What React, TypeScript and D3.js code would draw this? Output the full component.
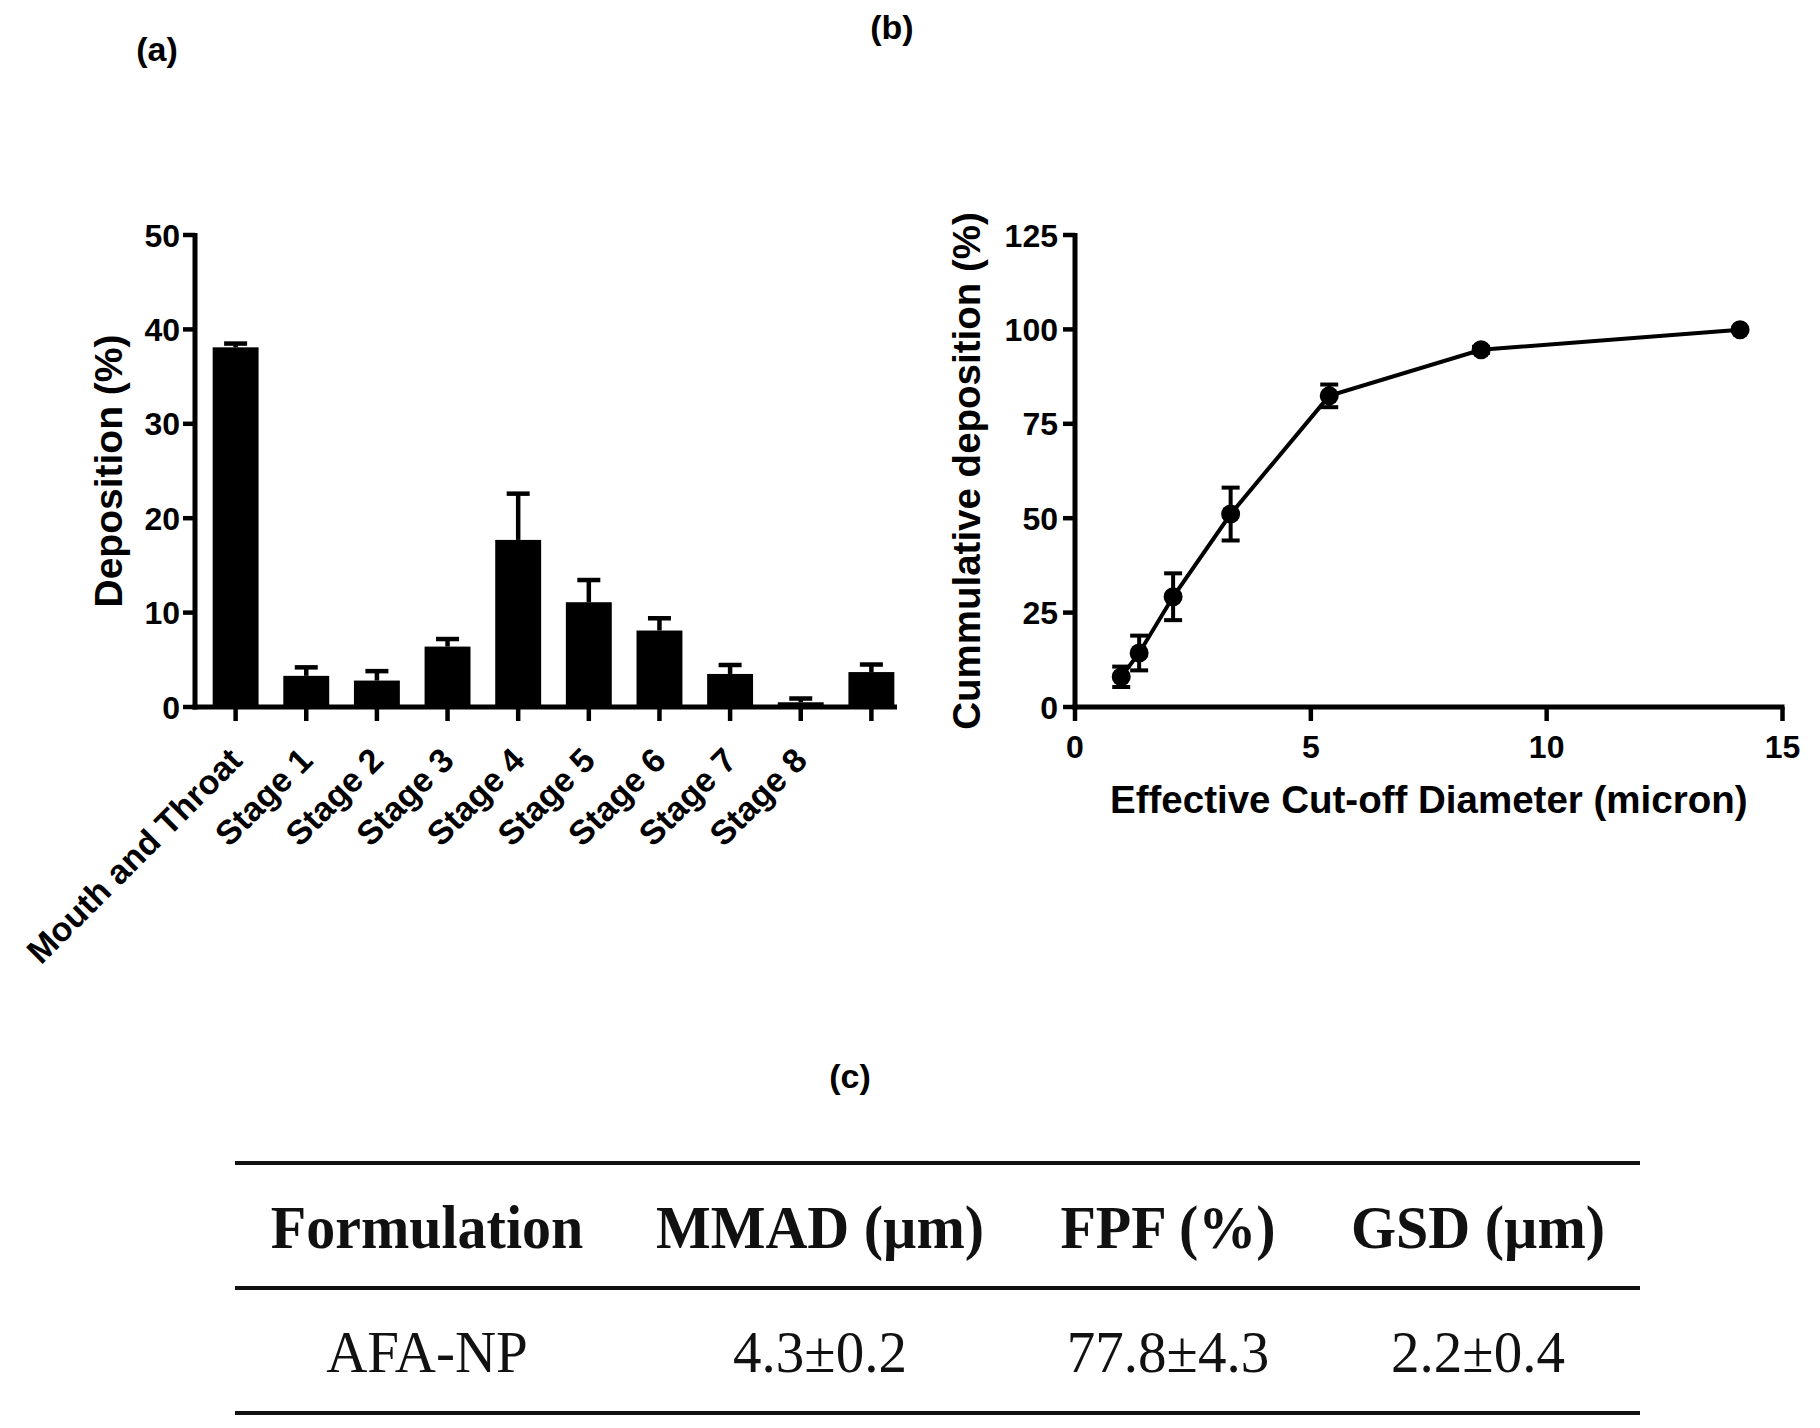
import React from "react";
import * as d3 from "d3";

// ---------- Panel (a) data ----------
const stageLabels = ["Mouth and Throat", "Stage 1", "Stage 2", "Stage 3", "Stage 4", "Stage 5", "Stage 6", "Stage 7", "Stage 8", ""];
const depositionMean = [38.1, 3.3, 2.8, 6.4, 17.7, 11.1, 8.1, 3.5, 0.5, 3.7];
const depositionSD = [0.4, 0.9, 1.0, 0.8, 4.9, 2.35, 1.3, 0.95, 0.4, 0.8];
const yTicksA = [0, 10, 20, 30, 40, 50];

// ---------- Panel (b) data ----------
const cutoffDiameter = [0.98, 1.36, 2.08, 3.3, 5.39, 8.61, 14.1];
const cumulativeMean = [8.0, 14.3, 29.2, 51.1, 82.4, 94.6, 99.9];
const cumulativeSD = [2.7, 4.6, 6.2, 7.0, 3.0, 0.8, 0.3];
const yTicksB = [0, 25, 50, 75, 100, 125];
const xTicksB = [0, 5, 10, 15];

// ---------- Panel (c) table ----------
const tableHeader = ["Formulation", "MMAD (\u00b5m)", "FPF (%)", "GSD (\u00b5m)"];
const tableRow = ["AFA-NP", "4.3\u00b10.2", "77.8\u00b14.3", "2.2\u00b10.4"];

const SANS = "'Liberation Sans', Arial, Helvetica, sans-serif";
const SERIF = "'Liberation Serif', 'Times New Roman', serif";

export default function App() {
  const W = 1820;
  const H = 1428;

  // Panel (a) scales
  const idx = d3.range(stageLabels.length);
  const xA = d3
    .scaleBand<number>()
    .domain(idx)
    .range([195, 912])
    .paddingInner(0.35)
    .paddingOuter(0.25);
  const yA = d3.scaleLinear().domain([0, 50]).range([707, 235]);
  const axisAX = 195;
  const axisAY = yA(0);

  // Panel (b) scales
  const xB = d3.scaleLinear().domain([0, 15]).range([1075, 1782.5]);
  const yB = d3.scaleLinear().domain([0, 125]).range([707, 235]);
  const ptsB = cutoffDiameter.map((x, i) => ({ x, y: cumulativeMean[i], e: cumulativeSD[i] }));
  const lineB = d3
    .line<{ x: number; y: number }>()
    .x((d) => xB(d.x))
    .y((d) => yB(d.y));

  // Table
  const colCenters = [427, 820, 1168, 1478];

  const axisW = 5;
  const tickLen = 12;

  return (
    <div style={{ position: "absolute", left: 0, top: 0, width: W, height: H, background: "#fff" }}>
      <svg width={W} height={H} viewBox={`0 0 ${W} ${H}`} style={{ display: "block" }}>
        <rect x={0} y={0} width={W} height={H} fill="#fff" />

        {/* Panel labels */}
        <g fontFamily={SANS} fontWeight="bold" fontSize={34} fill="#000" textAnchor="middle">
          <text x={157} y={61}>(a)</text>
          <text x={892} y={39}>(b)</text>
          <text x={850} y={1088}>(c)</text>
        </g>

        {/* ---------------- Panel (a) ---------------- */}
        <g>
          {idx.map((i) => (
            <rect
              key={"bar" + i}
              x={xA(i)}
              y={yA(depositionMean[i])}
              width={xA.bandwidth()}
              height={axisAY - yA(depositionMean[i])}
              fill="#000"
            />
          ))}
          {idx.map((i) => {
            const cx = (xA(i) as number) + xA.bandwidth() / 2;
            const yTop = yA(depositionMean[i] + depositionSD[i]);
            return (
              <g key={"err" + i} stroke="#000" strokeWidth={4.5}>
                <line x1={cx} x2={cx} y1={yA(depositionMean[i])} y2={yTop} />
                <line x1={cx - 11.5} x2={cx + 11.5} y1={yTop} y2={yTop} />
              </g>
            );
          })}
          <line x1={axisAX} x2={axisAX} y1={yA(50) - 2} y2={axisAY + axisW / 2} stroke="#000" strokeWidth={axisW} />
          <line x1={axisAX - axisW / 2} x2={897} y1={axisAY} y2={axisAY} stroke="#000" strokeWidth={axisW} />
          {yTicksA.map((t) => (
            <g key={"ya" + t}>
              <line x1={axisAX - tickLen} x2={axisAX} y1={yA(t)} y2={yA(t)} stroke="#000" strokeWidth={4.5} />
              <text
                x={axisAX - 15}
                y={yA(t)}
                dy="0.36em"
                textAnchor="end"
                fontFamily={SANS}
                fontWeight="bold"
                fontSize={32}
              >
                {t}
              </text>
            </g>
          ))}
          {idx.map((i) => {
            const cx = (xA(i) as number) + xA.bandwidth() / 2;
            return (
              <g key={"xa" + i}>
                <line x1={cx} x2={cx} y1={axisAY} y2={axisAY + 14} stroke="#000" strokeWidth={4.5} />
                {stageLabels[i] !== "" && (
                  <text
                    transform={`translate(${cx},${axisAY + 47}) rotate(-45)`}
                    dy="0.35em"
                    textAnchor="end"
                    fontFamily={SANS}
                    fontWeight="bold"
                    fontSize={34}
                  >
                    {stageLabels[i]}
                  </text>
                )}
              </g>
            );
          })}
          <text
            transform={`translate(122,${(yA(0) + yA(50)) / 2}) rotate(-90)`}
            textAnchor="middle"
            fontFamily={SANS}
            fontWeight="bold"
            fontSize={39}
          >
            Deposition (%)
          </text>
        </g>

        {/* ---------------- Panel (b) ---------------- */}
        <g>
          <path d={lineB(ptsB) || ""} fill="none" stroke="#000" strokeWidth={4} />
          {ptsB.map((p, i) => {
            const cx = xB(p.x);
            const y1 = yB(p.y + p.e);
            const y2 = yB(p.y - p.e);
            return (
              <g key={"pb" + i} stroke="#000" strokeWidth={4}>
                <line x1={cx} x2={cx} y1={y1} y2={y2} />
                <line x1={cx - 9} x2={cx + 9} y1={y1} y2={y1} />
                <line x1={cx - 9} x2={cx + 9} y1={y2} y2={y2} />
              </g>
            );
          })}
          {ptsB.map((p, i) => (
            <circle key={"c" + i} cx={xB(p.x)} cy={yB(p.y)} r={9.5} fill="#000" />
          ))}
          <line x1={xB(0)} x2={xB(0)} y1={yB(125) - 2} y2={yB(0) + axisW / 2} stroke="#000" strokeWidth={axisW} />
          <line x1={xB(0) - axisW / 2} x2={xB(15) + 2} y1={yB(0)} y2={yB(0)} stroke="#000" strokeWidth={axisW} />
          {yTicksB.map((t) => (
            <g key={"yb" + t}>
              <line x1={xB(0) - tickLen} x2={xB(0)} y1={yB(t)} y2={yB(t)} stroke="#000" strokeWidth={4.5} />
              <text
                x={xB(0) - 17}
                y={yB(t)}
                dy="0.36em"
                textAnchor="end"
                fontFamily={SANS}
                fontWeight="bold"
                fontSize={32}
              >
                {t}
              </text>
            </g>
          ))}
          {xTicksB.map((t) => (
            <g key={"xb" + t}>
              <line x1={xB(t)} x2={xB(t)} y1={yB(0)} y2={yB(0) + 14} stroke="#000" strokeWidth={4.5} />
              <text
                x={xB(t)}
                y={758}
                textAnchor="middle"
                fontFamily={SANS}
                fontWeight="bold"
                fontSize={32}
              >
                {t}
              </text>
            </g>
          ))}
          <text
            x={(xB(0) + xB(15)) / 2}
            y={813}
            textAnchor="middle"
            fontFamily={SANS}
            fontWeight="bold"
            fontSize={38.5}
          >
            Effective Cut-off Diameter (micron)
          </text>
          <text
            transform={`translate(980,${(yB(0) + yB(125)) / 2}) rotate(-90)`}
            textAnchor="middle"
            fontFamily={SANS}
            fontWeight="bold"
            fontSize={38.5}
          >
            Cummulative deposition (%)
          </text>
        </g>

        {/* ---------------- Panel (c) table ---------------- */}
        <g>
          {[1163, 1288, 1413].map((y) => (
            <line key={"tl" + y} x1={235} x2={1640} y1={y} y2={y} stroke="#111" strokeWidth={4} />
          ))}
          {tableHeader.map((h, i) => (
            <text
              key={"th" + i}
              transform={`translate(${colCenters[i]},1248) scale(1,1.07)`}
              textAnchor="middle"
              fontFamily={SERIF}
              fontWeight="bold"
              fontSize={58}
              fill="#111"
            >
              {h}
            </text>
          ))}
          {tableRow.map((v, i) => (
            <text
              key={"td" + i}
              transform={`translate(${colCenters[i]},1372) scale(1,1.05)`}
              textAnchor="middle"
              fontFamily={SERIF}
              fontSize={57}
              fill="#111"
            >
              {v}
            </text>
          ))}
        </g>
      </svg>
    </div>
  );
}
